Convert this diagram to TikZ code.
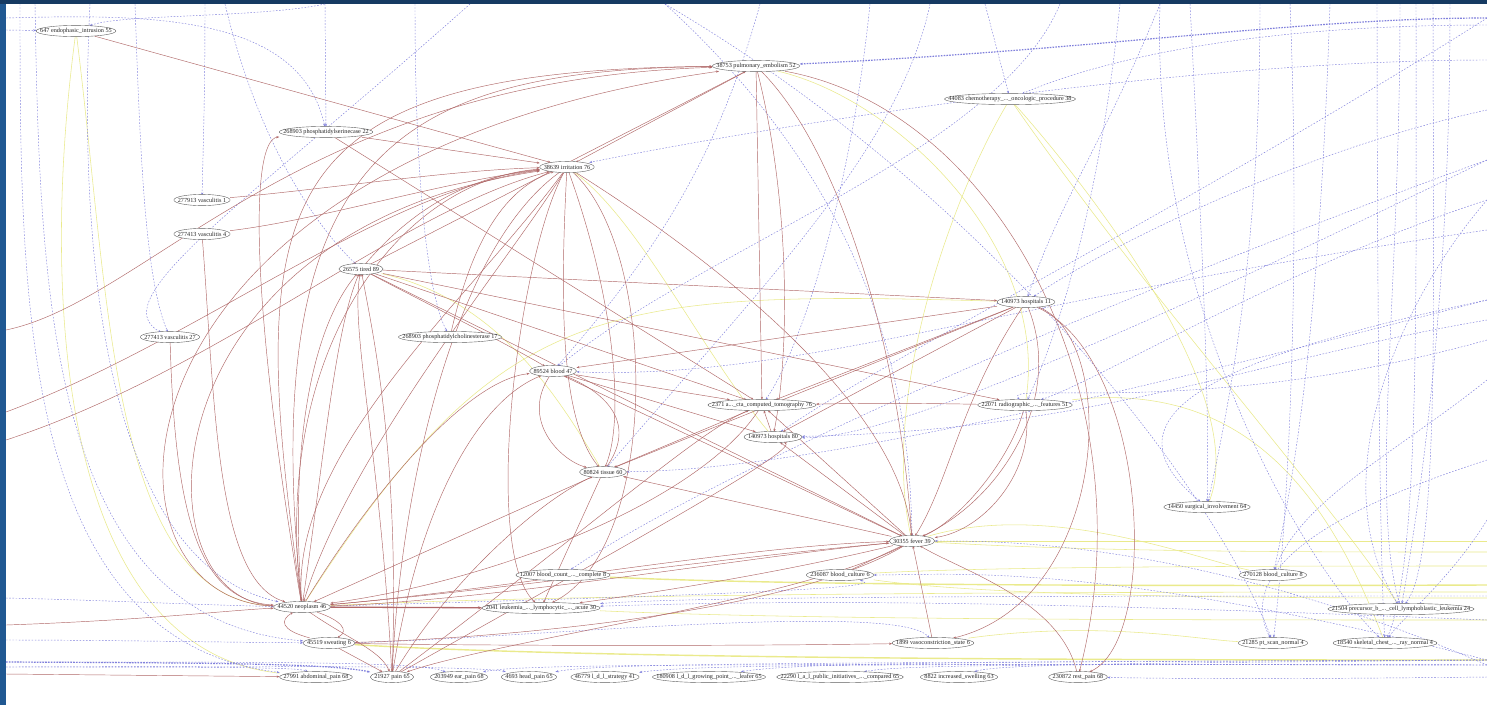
\documentclass[tikz,border=0pt]{standalone}
\usepackage{fontspec}
\setmainfont{Liberation Serif}
\usetikzlibrary{arrows.meta,calc}
\definecolor{frameblue}{RGB}{32,88,146}
\definecolor{framedark}{RGB}{22,58,98}
\definecolor{edgebrown}{RGB}{176,104,104}
\definecolor{edgeblue}{RGB}{128,128,220}
\definecolor{edgeyellow}{RGB}{234,234,140}
\definecolor{nodeline}{RGB}{95,95,95}
\pgfdeclarelayer{paper}
\pgfdeclarelayer{edges}
\pgfdeclarelayer{ovals}
\pgfsetlayers{paper,edges,ovals,main}
\tikzset{
  nd/.style={rectangle, inner xsep=0pt, inner ysep=0.8pt, outer xsep=4pt, outer ysep=1.6pt,
    font=\fontsize{6.2}{7}\selectfont, text=black!85},
  oval/.style={draw=nodeline, line width=0.4pt, fill=white},
  tip/.style={-{Stealth[length=3pt,width=2.2pt]}},
  br/.style={draw=edgebrown, line width=0.45pt, tip},
  brthick/.style={draw=edgebrown, line width=1.3pt, -{Stealth[length=4pt,width=3pt]}},
  bl/.style={draw=edgeblue, line width=0.45pt, dash pattern=on 1.6pt off 1.6pt, tip},
  blthick/.style={draw=edgeblue, line width=1.2pt, dash pattern=on 1.6pt off 1.2pt, tip},
  yl/.style={draw=edgeyellow, line width=0.55pt},
  ylthick/.style={draw=edgeyellow, line width=1.4pt},
}
\begin{document}
\begin{tikzpicture}[x=1pt,y=-1pt]
\useasboundingbox (0,0) rectangle (1487,705);
\begin{pgfonlayer}{paper}
\fill[white] (0,0) rectangle (1487,705);
\fill[frameblue] (0,0) rectangle (6,705);
\fill[framedark] (0,0) rectangle (1487,4);
\end{pgfonlayer}

% ---------- nodes ----------
\node[nd] (e647)   at (76,31)   {647 endophasic\_intrusion 55};
\node[nd] (pe)     at (756,66)  {38753 pulmonary\_embolism 52};
\node[nd] (chemo)  at (1010,99) {44083 chemotherapy\_...\_oncologic\_procedure 38};
\node[nd] (ps22)   at (326,132) {268903 phosphatidylserinecase 22};
\node[nd] (irr)    at (567,167) {38639 irritation 76};
\node[nd] (vas1)   at (202,200) {277913 vasculitis 1};
\node[nd] (vas4)   at (202,234) {277413 vasculitis 4};
\node[nd] (tired)  at (361,269) {26575 tired 89};
\node[nd] (vas27)  at (170,337) {277413 vasculitis 27};
\node[nd] (pc17)   at (450,337) {268903 phosphatidylcholinesterase 17};
\node[nd] (hosp11) at (1026,302) {140973 hospitals 11};
\node[nd] (blood)  at (553,371) {89524 blood 47};
\node[nd] (cta)    at (762,405) {2371 a...\_cta\_computed\_tomography 76};
\node[nd] (radio)  at (1025,405) {22071 radiographic\_...\_features 51};
\node[nd] (hosp80) at (773,437) {140973 hospitals 80};
\node[nd] (tissue) at (603,472) {80824 tissue 60};
\node[nd] (surg)   at (1207,507) {14450 surgical\_involvement 64};
\node[nd] (fever)  at (912,541) {30355 fever 39};
\node[nd] (cbc)    at (563,575) {12007 blood\_count\_...\_complete 8};
\node[nd] (bc6)    at (840,575) {236087 blood\_culture 6};
\node[nd] (bc8)    at (1273,575) {270128 blood\_culture 8};
\node[nd] (neo)    at (302,607) {44520 neoplasm 46};
\node[nd] (leuk)   at (541,608) {2041 leukemia\_...\_lymphocytic\_...\_acute 30};
\node[nd] (prec)   at (1401,609) {21504 precursor\_b\_...\_cell\_lymphoblastic\_leukemia 24};
\node[nd] (sweat)  at (329,643) {45519 sweating 6};
\node[nd] (vaso)   at (933,643) {1899 vasoconstriction\_state 6};
\node[nd] (pet)    at (1273,643) {21285 pt\_scan\_normal 4};
\node[nd] (xray)   at (1385,643) {18540 skeletal\_chest\_...\_ray\_normal 4};
\node[nd] (abd)    at (316,677) {27991 abdominal\_pain 68};
\node[nd] (pain)   at (392,677) {21927 pain 65};
\node[nd] (ear)    at (459,677) {203949 ear\_pain 68};
\node[nd] (head)   at (529,677) {4693 head\_pain 65};
\node[nd] (strat)  at (605,677) {46779 l\_d\_l\_strategy 41};
\node[nd] (grow)   at (709,677) {180908 l\_d\_l\_growing\_point\_...\_leafer 65};
\node[nd] (pub)    at (840,677) {22290 l\_a\_l\_public\_initiatives\_...\_compared 65};
\node[nd] (swell)  at (959,677) {8822 increased\_swelling 63};
\node[nd] (rest)   at (1078,677) {230872 rest\_pain 68};

% ---------- oval outlines behind the labels ----------
\begin{pgfonlayer}{ovals}
\foreach \nm in {e647,pe,chemo,ps22,irr,vas1,vas4,tired,vas27,pc17,hosp11,blood,cta,radio,
  hosp80,tissue,surg,fever,cbc,bc6,bc8,neo,leuk,prec,sweat,vaso,pet,xray,
  abd,pain,ear,head,strat,grow,pub,swell,rest}{
  \path let \p1=(\nm.west), \p2=(\nm.east), \n1={0.5*(\x2-\x1)} in
    [oval] (\nm.center) ellipse [x radius=\n1, y radius=5.6pt];
}
\end{pgfonlayer}

% ---------- free ends on the frame ----------
\coordinate (lA) at (6,330);  \coordinate (lB) at (6,412);  \coordinate (lC) at (6,440);
\coordinate (lD) at (6,625);  \coordinate (lE) at (6,674);  \coordinate (lF) at (6,30);
\coordinate (lG) at (6,598);  \coordinate (lH) at (6,640);  \coordinate (lI) at (6,662);
\coordinate (lJ) at (6,667);  \coordinate (lK) at (6,18);
\coordinate (t0) at (20,4);   \coordinate (t0b) at (35,4);  \coordinate (t0c) at (90,4);
\coordinate (t1) at (135,4);  \coordinate (t2) at (205,4);  \coordinate (t3) at (225,4);
\coordinate (t4) at (325,4);  \coordinate (t5) at (415,4);  \coordinate (t5b) at (470,4);
\coordinate (t6) at (665,4);  \coordinate (t7) at (870,4);  \coordinate (t8) at (985,4);
\coordinate (t9) at (1120,4); \coordinate (t10) at (1190,4); \coordinate (t11) at (1260,4);
\coordinate (t12) at (1330,4); \coordinate (t13) at (1400,4); \coordinate (t14) at (1450,4);
\coordinate (t15) at (1060,4); \coordinate (t16) at (1160,4); \coordinate (t17) at (930,4);
\coordinate (t18) at (1377,4); \coordinate (t19) at (1416,4); \coordinate (t20) at (1433,4);
\coordinate (t21) at (1290,4); \coordinate (t22) at (760,4);
\coordinate (r1) at (1487,18);  \coordinate (r2) at (1487,60);  \coordinate (r3) at (1487,110);
\coordinate (r4) at (1487,160); \coordinate (r5) at (1487,230); \coordinate (r6) at (1487,300);
\coordinate (r7) at (1487,380); \coordinate (r8) at (1487,460); \coordinate (r9) at (1487,585);
\coordinate (r10) at (1487,592); \coordinate (r11) at (1487,598); \coordinate (r12) at (1487,620);
\coordinate (r13) at (1487,660); \coordinate (r14) at (1487,665); \coordinate (r15) at (1487,520);
\coordinate (r16) at (1487,200); \coordinate (r17) at (1487,340); \coordinate (r18) at (1487,677);
\coordinate (r19) at (1487,541); \coordinate (r20) at (1487,552); \coordinate (r21) at (1487,566);
\coordinate (r22) at (1487,596); \coordinate (r23) at (1487,320); \coordinate (r24) at (1487,25);

\begin{pgfonlayer}{edges}
% ---------- yellow connectors ----------
\draw[yl] (e647) .. controls (40,300) and (60,650) .. (abd);
\draw[yl] (e647) .. controls (110,300) and (110,600) .. (neo);
\draw[ylthick] (cbc) .. controls (800,586) and (1200,586) .. (r9);
\draw[yl] (neo) .. controls (600,592) and (1200,592) .. (r10);
\draw[yl] (bc6) .. controls (1000,598) and (1300,598) .. (r11);
\draw[yl] (leuk) .. controls (800,620) and (1200,620) .. (r12);
\draw[ylthick] (sweat) .. controls (600,660) and (1200,660) .. (r13);
\draw[yl] (fever) .. controls (1100,541) and (1300,541) .. (r19);
\draw[yl] (fever) .. controls (1100,552) and (1300,552) .. (r20);
\draw[yl] (bc6) .. controls (1000,566) and (1300,566) .. (r21);
\draw[yl] (chemo) .. controls (950,200) and (880,400) .. (fever);
\draw[yl] (chemo) .. controls (1100,200) and (1250,400) .. (surg);
\draw[yl] (irr) .. controls (640,220) and (700,350) .. (hosp80);
\draw[yl] (pe) .. controls (900,100) and (1050,250) .. (radio);
\draw[yl] (fever) .. controls (1050,500) and (1200,560) .. (bc8);
\draw[yl] (tired) .. controls (500,300) and (560,400) .. (tissue);
\draw[yl] (neo) .. controls (500,300) and (600,290) .. (hosp11);
\draw[yl] (chemo) .. controls (1150,300) and (1330,500) .. (prec);
\draw[yl] (vaso) .. controls (1100,620) and (1200,640) .. (pet);
\draw[yl] (radio) .. controls (1250,380) and (1330,500) .. (xray);

% ---------- blue dashed connectors ----------
\draw[bl] (lF) -- (e647);
\draw[bl] (lK) .. controls (150,14) and (300,14) .. (ps22);
\draw[bl] (t4) .. controls (260,18) and (120,14) .. (e647);
\draw[bl] (t0) .. controls (20,300) and (20,640) .. (abd);
\draw[bl] (t0b) .. controls (40,300) and (50,620) .. (sweat);
\draw[bl] (t0c) .. controls (80,200) and (90,560) .. (neo);
\draw[bl] (t1) .. controls (140,150) and (145,280) .. (vas27);
\draw[bl] (t2) .. controls (205,100) and (203,150) .. (vas1);
\draw[bl] (t3) .. controls (260,150) and (320,230) .. (tired);
\draw[bl] (t4) -- (ps22);
\draw[bl] (t5) .. controls (415,200) and (430,300) .. (pc17);
\draw[bl] (t5b) .. controls (250,200) and (100,300) .. (vas27);
\draw[bl] (t8) -- (chemo);
\draw[bl] (t7) .. controls (850,200) and (800,350) .. (cta);
\draw[bl] (t22) .. controls (720,150) and (660,250) .. (blood);
\draw[bl] (r2) .. controls (1200,60) and (800,120) .. (irr);
\draw[bl] (r5) .. controls (1000,300) and (800,380) .. (blood);
\draw[bl] (r6) .. controls (1100,400) and (800,470) .. (tissue);
\draw[bl] (r4) .. controls (1200,300) and (900,440) .. (hosp80);
\draw[bl] (r3) .. controls (1300,150) and (1100,250) .. (hosp11);
\draw[bl] (t9) .. controls (1100,200) and (1060,330) .. (radio);
\draw[bl] (r16) .. controls (1300,260) and (1100,380) .. (radio);
\draw[bl] (t10) .. controls (1200,200) and (1210,400) .. (surg);
\draw[bl] (t11) .. controls (1260,250) and (1230,400) .. (surg);
\draw[bl] (t12) .. controls (1320,300) and (1300,450) .. (bc8);
\draw[bl] (r7) .. controls (1400,450) and (1300,500) .. (bc8);
\draw[bl] (t13) .. controls (1400,300) and (1370,500) .. (prec);
\draw[bl] (t14) .. controls (1450,300) and (1420,500) .. (prec);
\draw[bl] (t18) .. controls (1377,300) and (1380,560) .. (xray);
\draw[bl] (t19) .. controls (1416,300) and (1420,560) .. (xray);
\draw[bl] (t20) .. controls (1433,300) and (1440,560) .. (prec);
\draw[bl] (t21) .. controls (1300,250) and (1290,500) .. (pet);
\draw[bl] (r8) .. controls (1300,520) and (1240,580) .. (pet);
\draw[bl] (t6) .. controls (1000,200) and (1220,500) .. (pet);
\draw[bl] (r15) .. controls (1450,580) and (1400,620) .. (xray);
\draw[bl] (t16) .. controls (1150,300) and (1300,560) .. (xray);
\draw[bl] (r4) .. controls (1100,300) and (700,480) .. (cbc);
\draw[bl] (r12) .. controls (1000,600) and (800,600) .. (leuk);
\draw[bl] (r22) .. controls (1100,596) and (700,596) .. (leuk);
\draw[bl] (r13) .. controls (1100,560) and (950,575) .. (bc6);
\draw[bl] (r23) .. controls (1250,360) and (1100,430) .. (hosp80);
\draw[bl] (lG) .. controls (100,600) and (200,605) .. (neo);
\draw[bl] (lH) .. controls (100,640) and (200,642) .. (sweat);
\draw[bl] (t6) .. controls (880,200) and (910,400) .. (fever);
\draw[bl] (r14) .. controls (1200,540) and (1000,541) .. (fever);
\draw[bl] (r17) .. controls (1200,420) and (1000,380) .. (radio);
\draw[bl] (t15) .. controls (1000,150) and (700,250) .. (blood);
\draw[bl] (t17) .. controls (900,150) and (750,300) .. (tissue);
\draw[blthick] (r1) .. controls (1300,18) and (1100,50) .. (pe);
\draw[bl] (r24) .. controls (1250,25) and (1100,60) .. (chemo);
\draw[bl] (r1) .. controls (1200,200) and (900,350) .. (hosp80);
\draw[bl] (t16) .. controls (1100,150) and (1060,200) .. (hosp11);
\draw[bl] (r6) .. controls (1200,360) and (1100,420) .. (surg);
\draw[bl] (r16) .. controls (1400,300) and (1320,480) .. (prec);
% the bundle along the lower edge
\draw[blthick] (lI) .. controls (200,663) and (330,663) .. (pain);
\draw[bl] (lJ) .. controls (200,667) and (300,667) .. (abd);
\draw[bl] (r18) .. controls (1300,679) and (1200,679) .. (rest);
\draw[bl] (r13) .. controls (1200,663) and (1000,663) .. (swell);
\draw[bl] (r14) .. controls (1100,664) and (900,664) .. (pub);
\draw[bl] (r13) .. controls (1000,662) and (800,662) .. (grow);
\draw[bl] (r14) .. controls (900,664) and (700,664) .. (strat);
\draw[bl] (r13) .. controls (800,663) and (600,663) .. (head);
\draw[bl] (r14) .. controls (700,664) and (520,664) .. (ear);
\draw[bl] (lI) .. controls (300,662) and (420,662) .. (ear);
\draw[bl] (lJ) .. controls (300,666) and (480,666) .. (head);
\draw[bl] (sweat) .. controls (500,640) and (900,600) .. (vaso);
\draw[bl] (neo) .. controls (600,598) and (900,590) .. (bc6);

% ---------- brown connectors ----------
\draw[br] (e647) -- (irr);
\draw[br] (ps22) -- (irr);
\draw[br] (ps22) -- (cta);
\draw[br] (neo) .. controls (250,300) and (250,140) .. (ps22);
\draw[br] (neo) .. controls (245,200) and (260,70) .. (pe);
\draw[br] (neo) .. controls (80,600) and (90,160) .. (pe);
\draw[br] (neo) .. controls (135,600) and (140,230) .. (irr);
\draw[br] (lA) .. controls (150,300) and (300,80) .. (pe);
\draw[br] (lB) .. controls (200,340) and (380,190) .. (irr);
\draw[br] (lC) .. controls (220,370) and (400,210) .. (irr);
\draw[br] (vas1) .. controls (320,190) and (450,170) .. (irr);
\draw[br] (vas4) .. controls (320,220) and (450,180) .. (irr);
\draw[br] (vas4) .. controls (215,400) and (215,580) .. (neo);
\draw[br] (vas27) .. controls (175,520) and (200,600) .. (neo);
\draw[br] (pc17) .. controls (470,250) and (500,190) .. (irr);
\draw[br] (tired) .. controls (420,200) and (480,175) .. (irr);
\draw[br] (tired) -- (hosp11);
\draw[br] (tired) -- (radio);
\draw[br] (tired) -- (cta);
\draw[br] (tired) -- (fever);
\draw[br] (tired) -- (pe);
\draw[br] (tired) .. controls (420,300) and (500,340) .. (blood);
\draw[br] (neo) .. controls (290,450) and (310,330) .. (tired);
\draw[br] (neo) .. controls (325,450) and (335,330) .. (tired);
\draw[br] (pain) .. controls (380,450) and (350,330) .. (tired);
\draw[br] (pain) .. controls (400,450) and (372,330) .. (tired);
\draw[br] (irr) .. controls (470,300) and (290,450) .. (neo);
\draw[br] (irr) .. controls (510,260) and (350,450) .. (neo);
\draw[br] (neo) .. controls (270,350) and (400,180) .. (irr);
\draw[br] (irr) .. controls (560,300) and (560,420) .. (tissue);
\draw[br] (irr) .. controls (615,300) and (625,420) .. (tissue);
\draw[br] (irr) .. controls (700,250) and (900,400) .. (fever);
\draw[br] (irr) .. controls (450,250) and (400,500) .. (pain);
\draw[br] (irr) .. controls (660,250) and (660,550) .. (leuk);
\draw[br] (irr) .. controls (520,250) and (480,550) .. (leuk);
\draw[br] (pe) -- (irr);
\draw[br] (pe) -- (cta);
\draw[br] (pe) .. controls (790,200) and (790,350) .. (hosp80);
\draw[br] (pe) .. controls (840,150) and (900,350) .. (fever);
\draw[br] (pe) .. controls (1000,110) and (1150,400) .. (rest);
\draw[br] (neo) .. controls (255,150) and (400,70) .. (pe);
\draw[br] (hosp11) -- (blood);
\draw[br] (hosp11) -- (cta);
\draw[br] (hosp11) -- (hosp80);
\draw[br] (hosp11) -- (tissue);
\draw[br] (hosp11) .. controls (960,400) and (950,480) .. (fever);
\draw[br] (hosp11) .. controls (1065,400) and (1000,500) .. (fever);
\draw[br] (hosp11) .. controls (1120,340) and (1110,600) .. (vaso);
\draw[br] (hosp11) .. controls (1150,360) and (1160,640) .. (rest);
\draw[br] (radio) .. controls (900,403) and (880,403) .. (cta);
\draw[br] (radio) .. controls (1010,460) and (960,520) .. (fever);
\draw[br] (radio) .. controls (1035,470) and (985,530) .. (fever);
\draw[br] (hosp80) -- (cta);
\draw[br] (cta) -- (tissue);
\draw[br] (cta) .. controls (700,500) and (500,580) .. (neo);
\draw[br] (fever) -- (cta);
\draw[br] (fever) -- (hosp80);
\draw[br] (blood) .. controls (520,420) and (560,460) .. (tissue);
\draw[br] (tissue) .. controls (640,420) and (600,390) .. (blood);
\draw[br] (blood) -- (cta);
\draw[br] (blood) -- (hosp80);
\draw[br] (blood) -- (fever);
\draw[br] (neo) .. controls (380,480) and (470,380) .. (blood);
\draw[br] (pain) .. controls (420,500) and (480,400) .. (blood);
\draw[br] (tissue) -- (neo);
\draw[br] (fever) -- (tissue);
\draw[br] (tissue) -- (leuk);
\draw[br] (pain) .. controls (450,580) and (540,500) .. (tissue);
\draw[br] (fever) .. controls (700,560) and (500,590) .. (neo);
\draw[br] (fever) .. controls (750,580) and (600,600) .. (leuk);
\draw[br] (fever) .. controls (800,600) and (500,640) .. (pain);
\draw[br] (fever) .. controls (780,620) and (450,640) .. (sweat);
\draw[br] (vaso) -- (fever);
\draw[br] (bc6) -- (fever);
\draw[br] (rest) .. controls (1060,600) and (960,570) .. (fever);
\draw[br] (pain) .. controls (600,560) and (800,450) .. (hosp80);
\draw[br] (pain) .. controls (600,520) and (700,430) .. (cta);
\draw[brthick] (neo) -- (leuk);
\draw[br] (neo) .. controls (500,590) and (750,545) .. (fever);
\draw[br] (neo) .. controls (500,600) and (760,555) .. (fever);
\draw[br] (sweat) .. controls (280,630) and (280,620) .. (neo);
\draw[br] (neo) .. controls (340,620) and (350,630) .. (sweat);
\draw[br] (sweat) .. controls (500,646) and (750,646) .. (vaso);
\draw[br] (sweat) -- (pain);
\draw[br] (neo) .. controls (350,640) and (380,650) .. (pain);
\draw[br] (lD) .. controls (150,620) and (230,610) .. (neo);
\draw[br] (lE) -- (abd);
\end{pgfonlayer}
\end{tikzpicture}
\end{document}
